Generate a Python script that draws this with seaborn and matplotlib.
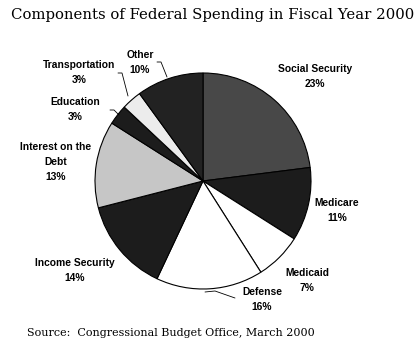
import matplotlib.pyplot as plt
from matplotlib.lines import Line2D
import seaborn as sns

sns.set_style('white')
plt.rcParams['font.family'] = ['Liberation Sans', 'DejaVu Sans']
plt.rcParams['text.color'] = 'black'

# data (clockwise from 12 o'clock)
categories = ['Social Security', 'Medicare', 'Medicaid', 'Defense', 'Income Security',
              'Interest on the\nDebt', 'Education', 'Transportation', 'Other']
shares = [23, 11, 7, 16, 14, 13, 3, 3, 10]
slice_colors = ['#484848', '#1c1c1c', '#ffffff', '#ffffff', '#1c1c1c',
                '#c6c6c6', '#1c1c1c', '#ececec', '#222222']

W, H = 420, 351
fig = plt.figure(figsize=(W / 100, H / 100), dpi=100)

def fx(x):
    return x / W

def fy(y):
    return 1 - y / H

# pie axes: centre (203, 181) px, radius 108 px
cx, cy, r = 203, 181, 108
ax = fig.add_axes([fx(cx - r), fy(cy + r), 2 * r / W, 2 * r / H])
ax.pie(shares, colors=slice_colors, startangle=90, counterclock=False,
       wedgeprops={'edgecolor': 'black', 'linewidth': 0.8})
ax.set_xlim(-1, 1)
ax.set_ylim(-1, 1)
ax.set_aspect('equal')
ax.axis('off')

# label layout in pixels: centre of first text line, 15 px line step
label_pos = [(315, 69), (337, 203), (307, 273), (262, 292), (75, 263),
             (56, 147), (75, 102), (79, 65), (140, 55)]
for name, val, (x, y) in zip(categories, shares, label_pos):
    lines = name.split('\n') + [f'{val}%']
    for i, line in enumerate(lines):
        fig.text(fx(x), fy(y + 15 * i), line, ha='center', va='center',
                 fontsize=7.4, fontweight='bold', color='black')

# leader lines
leaders = [
    [(157, 62), (161, 62), (167, 77)],
    [(118, 73), (122, 73), (128, 96)],
    [(110, 110), (114, 110), (119, 115)],
    [(205, 292), (215, 291), (235, 298)],
]
for pts in leaders:
    fig.add_artist(Line2D([fx(p[0]) for p in pts], [fy(p[1]) for p in pts],
                          color='black', linewidth=0.6))

fig.text(fx(213), fy(15), 'Components of Federal Spending in Fiscal Year 2000',
         ha='center', va='center', fontsize=10.7, family='DejaVu Serif', color='black')
fig.text(fx(27), fy(333), 'Source:  Congressional Budget Office, March 2000',
         ha='left', va='center', fontsize=8, family='DejaVu Serif', color='black')

fig.savefig('out.png', dpi=100)
